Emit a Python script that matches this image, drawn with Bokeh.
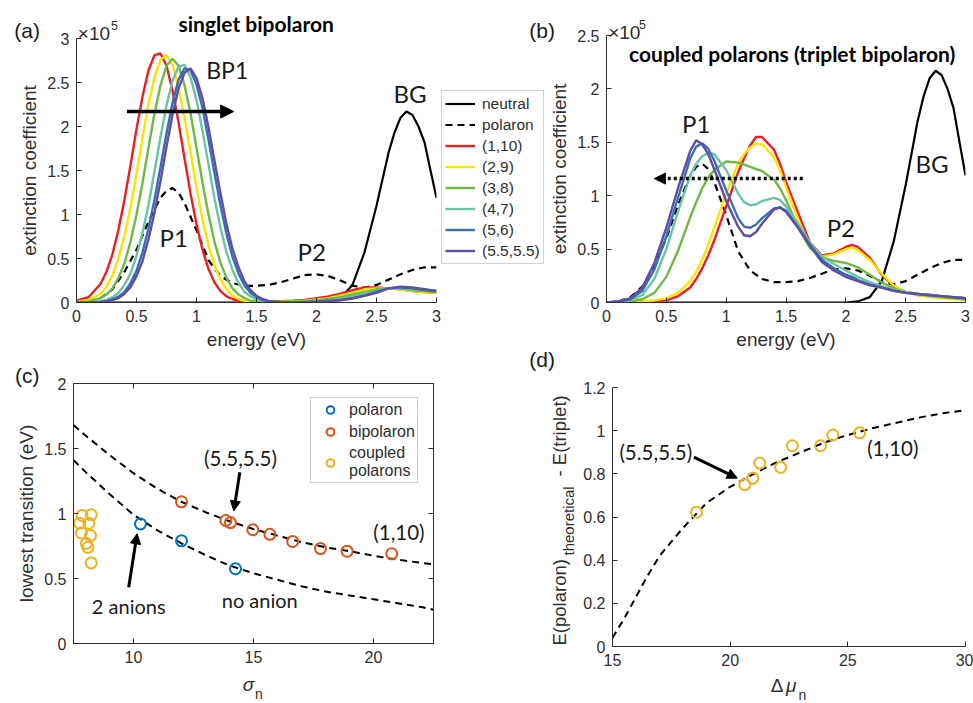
from math import pi
from bokeh.plotting import figure
from bokeh.models import (Range1d, Legend, LegendItem, Label, Arrow, NormalHead, LinearAxis,
                          FixedTicker, CustomJSTickFormatter)
from bokeh.embed import file_html
from bokeh.resources import INLINE

# ---------------- data (extinction values in units of 1e5) ----------------
energy_a = [0.0, 0.1, 0.2, 0.25, 0.3, 0.35, 0.4, 0.45, 0.5, 0.55, 0.6, 0.65, 0.7, 0.75,
            0.8, 0.85, 0.9, 0.95, 1.0, 1.05, 1.1, 1.15, 1.2, 1.25, 1.3, 1.35, 1.4, 1.45,
            1.5, 1.55, 1.6, 1.7, 1.8, 1.9, 2.0, 2.1, 2.2, 2.3, 2.4, 2.5, 2.6, 2.7, 2.8, 2.9, 3.0]
singlet_1_10 = [0.02, 0.06, 0.21, 0.35, 0.55, 0.83, 1.17, 1.56, 1.97, 2.34, 2.64, 2.81, 2.83, 2.69,
                2.41, 2.05, 1.64, 1.24, 0.89, 0.60, 0.38, 0.23, 0.13, 0.07, 0.04, 0.02, 0.01, 0.01,
                0.01, 0.01, 0.01, 0.015, 0.02, 0.03, 0.05, 0.07, 0.10, 0.14, 0.17, 0.17, 0.16, 0.15, 0.13, 0.12, 0.11]
singlet_2_9 = [0.01, 0.03, 0.10, 0.18, 0.31, 0.50, 0.76, 1.08, 1.46, 1.87, 2.25, 2.56, 2.76, 2.81,
               2.70, 2.45, 2.10, 1.71, 1.31, 0.94, 0.65, 0.42, 0.26, 0.15, 0.08, 0.04, 0.02, 0.01,
               0.01, 0.005, 0.005, 0.01, 0.015, 0.02, 0.035, 0.05, 0.08, 0.11, 0.15, 0.16, 0.16, 0.15, 0.13, 0.12, 0.11]
singlet_3_8 = [0.005, 0.01, 0.05, 0.09, 0.16, 0.28, 0.45, 0.69, 1.00, 1.36, 1.76, 2.15, 2.47, 2.69,
               2.77, 2.69, 2.47, 2.15, 1.76, 1.36, 1.00, 0.69, 0.45, 0.28, 0.16, 0.09, 0.05, 0.02,
               0.01, 0.005, 0.003, 0.005, 0.01, 0.015, 0.025, 0.04, 0.06, 0.09, 0.12, 0.15, 0.16, 0.16, 0.14, 0.13, 0.12]
singlet_4_7 = [0.0, 0.003, 0.014, 0.03, 0.06, 0.11, 0.20, 0.33, 0.53, 0.79, 1.11, 1.49, 1.88, 2.24,
               2.52, 2.68, 2.70, 2.56, 2.30, 1.95, 1.57, 1.18, 0.85, 0.57, 0.37, 0.22, 0.12, 0.07,
               0.035, 0.02, 0.008, 0.005, 0.005, 0.01, 0.015, 0.025, 0.04, 0.07, 0.10, 0.13, 0.16, 0.17, 0.15, 0.14, 0.13]
singlet_5_6 = [0.0, 0.001, 0.007, 0.017, 0.034, 0.067, 0.12, 0.22, 0.36, 0.57, 0.84, 1.17, 1.54, 1.92,
               2.27, 2.53, 2.66, 2.64, 2.48, 2.21, 1.85, 1.47, 1.10, 0.78, 0.52, 0.33, 0.19, 0.11,
               0.06, 0.03, 0.014, 0.003, 0.003, 0.005, 0.01, 0.02, 0.03, 0.05, 0.08, 0.12, 0.16, 0.17, 0.16, 0.14, 0.13]
singlet_55_55 = [0.0, 0.001, 0.005, 0.012, 0.026, 0.05, 0.10, 0.175, 0.30, 0.47, 0.72, 1.02, 1.38, 1.77,
                 2.13, 2.43, 2.61, 2.66, 2.55, 2.32, 1.99, 1.61, 1.24, 0.89, 0.61, 0.40, 0.24, 0.14,
                 0.076, 0.04, 0.019, 0.005, 0.003, 0.004, 0.008, 0.015, 0.025, 0.045, 0.075, 0.11, 0.16, 0.18, 0.17, 0.15, 0.13]

energy_polaron = [0.0, 0.1, 0.2, 0.3, 0.4, 0.5, 0.6, 0.7, 0.75, 0.8, 0.85, 0.9, 1.0, 1.1, 1.2, 1.3, 1.4,
                  1.5, 1.6, 1.7, 1.8, 1.9, 2.0, 2.1, 2.2, 2.3, 2.4, 2.5, 2.6, 2.7, 2.8, 2.9, 3.0]
polaron = [0.0, 0.01, 0.05, 0.15, 0.35, 0.60, 0.92, 1.19, 1.27, 1.30, 1.25, 1.13, 0.82, 0.48, 0.30, 0.22, 0.19,
           0.19, 0.20, 0.23, 0.27, 0.31, 0.32, 0.30, 0.25, 0.19, 0.17, 0.20, 0.26, 0.32, 0.37, 0.40, 0.40]

energy_neutral = [0.0, 2.0, 2.1, 2.2, 2.3, 2.4, 2.5, 2.6, 2.65, 2.7, 2.75, 2.8, 2.85, 2.9, 2.95, 3.0]
neutral = [0.0, 0.0, 0.01, 0.05, 0.20, 0.57, 1.10, 1.70, 1.93, 2.10, 2.17, 2.13, 2.00, 1.82, 1.50, 1.19]

energy_b = [0.0, 0.1, 0.2, 0.3, 0.4, 0.5, 0.6, 0.7, 0.75, 0.8, 0.85, 0.9, 1.0, 1.1, 1.15, 1.2, 1.25, 1.3,
            1.4, 1.45, 1.5, 1.6, 1.7, 1.8, 1.9, 2.0, 2.05, 2.1, 2.2, 2.3, 2.4, 2.5, 2.6, 2.7, 2.8, 2.9, 3.0]
triplet_1_10 = [0.0, 0.0, 0.003, 0.007, 0.012, 0.02, 0.06, 0.14, 0.22, 0.32, 0.44, 0.58, 0.90, 1.22, 1.35, 1.47, 1.55, 1.55,
                1.43, 1.30, 1.13, 0.84, 0.56, 0.44, 0.46, 0.52, 0.54, 0.52, 0.42, 0.26, 0.15, 0.10, 0.07, 0.06, 0.05, 0.04, 0.03]
triplet_2_9 = [0.0, 0.0, 0.005, 0.01, 0.02, 0.04, 0.09, 0.20, 0.29, 0.40, 0.54, 0.70, 1.02, 1.30, 1.39, 1.45, 1.49, 1.48,
               1.36, 1.24, 1.08, 0.78, 0.53, 0.43, 0.45, 0.50, 0.51, 0.49, 0.40, 0.27, 0.16, 0.10, 0.07, 0.05, 0.04, 0.03, 0.03]
triplet_3_8 = [0.0, 0.005, 0.01, 0.03, 0.09, 0.24, 0.49, 0.80, 0.94, 1.07, 1.17, 1.24, 1.32, 1.31, 1.29, 1.27, 1.25, 1.23,
               1.15, 1.07, 0.96, 0.71, 0.51, 0.42, 0.39, 0.37, 0.35, 0.33, 0.26, 0.19, 0.13, 0.10, 0.08, 0.06, 0.05, 0.04, 0.03]
triplet_4_7 = [0.0, 0.01, 0.02, 0.07, 0.22, 0.50, 0.86, 1.19, 1.30, 1.37, 1.40, 1.39, 1.24, 1.02, 0.94, 0.91, 0.92, 0.95,
               0.98, 0.96, 0.90, 0.74, 0.56, 0.43, 0.36, 0.30, 0.27, 0.24, 0.19, 0.15, 0.12, 0.10, 0.08, 0.07, 0.06, 0.05, 0.04]
triplet_5_6 = [0.0, 0.01, 0.03, 0.11, 0.31, 0.62, 0.99, 1.35, 1.46, 1.49, 1.44, 1.33, 1.05, 0.79, 0.71, 0.70, 0.73, 0.79,
               0.88, 0.89, 0.86, 0.71, 0.54, 0.40, 0.32, 0.26, 0.24, 0.21, 0.17, 0.14, 0.11, 0.09, 0.08, 0.07, 0.06, 0.05, 0.04]
triplet_55_55 = [0.0, 0.01, 0.04, 0.14, 0.37, 0.70, 1.08, 1.42, 1.52, 1.48, 1.39, 1.25, 0.95, 0.71, 0.63, 0.62, 0.66, 0.74,
                 0.87, 0.89, 0.85, 0.70, 0.53, 0.38, 0.30, 0.24, 0.22, 0.20, 0.16, 0.14, 0.11, 0.09, 0.08, 0.07, 0.06, 0.05, 0.04]

series_labels = ["(1,10)", "(2,9)", "(3,8)", "(4,7)", "(5,6)", "(5.5,5.5)"]

# panel (c)
sigma_polaron = [10.29, 12.0, 14.25]
trans_polaron = [0.92, 0.79, 0.575]
sigma_bipolaron = [12.0, 13.85, 14.04, 14.97, 15.68, 16.63, 17.79, 18.9, 20.76]
trans_bipolaron = [1.09, 0.946, 0.93, 0.875, 0.84, 0.785, 0.73, 0.71, 0.69]
sigma_coupled = [7.86, 8.24, 7.76, 8.14, 7.83, 8.21, 8.04, 8.10, 8.24]
trans_coupled = [0.985, 0.99, 0.925, 0.925, 0.85, 0.83, 0.77, 0.74, 0.62]
sigma_fit = [7.5, 8, 9, 10, 11, 12, 13, 14, 15, 16, 17, 18, 19, 20, 21, 22, 22.5]
fit_bipolaron = [1.68, 1.60, 1.45, 1.31, 1.19, 1.09, 1.01, 0.94, 0.88, 0.83, 0.78, 0.74, 0.71, 0.675, 0.645, 0.62, 0.61]
fit_polaron = [1.41, 1.32, 1.15, 0.99, 0.87, 0.77, 0.68, 0.60, 0.54, 0.49, 0.44, 0.40, 0.37, 0.34, 0.31, 0.28, 0.26]

# panel (d)
dmu_coupled = [18.57, 20.62, 20.96, 21.26, 22.15, 22.64, 23.84, 24.36, 25.5]
dE_coupled = [0.622, 0.75, 0.78, 0.85, 0.83, 0.93, 0.93, 0.98, 0.99]
dmu_fit = [15, 15.5, 16, 16.5, 17, 18, 19, 20, 21, 22, 23, 24, 25, 26, 27, 28, 29, 30]
dE_fit = [0.04, 0.13, 0.23, 0.33, 0.42, 0.55, 0.665, 0.74, 0.80, 0.855, 0.90, 0.945, 0.98, 1.01, 1.035, 1.06, 1.08, 1.095]

# ---------------- styling ----------------
AX = "#2e2e2e"
TXT = "#1a1a1a"
TF = "Liberation Sans"
AF = "Lato"
COLS = ["#ee1d23", "#ffe400", "#6cb944", "#68c4a1", "#3b6cb7", "#5e4fa2"]
C_POL, C_BIP, C_CPL = "#0072BD", "#D95319", "#EDB120"
LW_SPEC = 2.4
DASH = "7 5"

fmt = CustomJSTickFormatter(code="return (Math.round(tick*100)/100).toString();")
blank_fmt = CustomJSTickFormatter(code="return '';")


def style_axis(ax):
    ax.axis_line_color = AX
    ax.major_tick_line_color = AX
    ax.major_tick_in = 5
    ax.major_tick_out = 0
    ax.minor_tick_line_color = None
    ax.major_label_text_font = TF
    ax.major_label_text_font_size = "16px"
    ax.major_label_text_color = AX
    ax.axis_label_text_font = TF
    ax.axis_label_text_font_size = "19px"
    ax.axis_label_text_font_style = "normal"
    ax.axis_label_text_color = AX
    ax.major_label_standoff = 7
    ax.axis_label_standoff = 4


def make_fig(left_px, top_px, w, h, left, right, top, bottom, xr, yr, xticks, yticks,
             xlabel=None, ylabel=None):
    p = figure(width=w, height=h, x_range=Range1d(*xr), y_range=Range1d(*yr),
               output_backend="svg", toolbar_location=None,
               min_border_left=left, min_border_right=right,
               min_border_top=top, min_border_bottom=bottom)
    p.styles = {"position": "absolute", "left": f"{left_px}px", "top": f"{top_px}px"}
    p.outline_line_color = None
    p.background_fill_color = "white"
    p.border_fill_color = "white"
    p.xgrid.visible = False
    p.ygrid.visible = False
    p.xaxis[0].ticker = FixedTicker(ticks=xticks)
    p.yaxis[0].ticker = FixedTicker(ticks=yticks)
    p.xaxis[0].axis_label = xlabel
    p.yaxis[0].axis_label = ylabel
    for ax in (p.xaxis[0], p.yaxis[0]):
        style_axis(ax)
        ax.formatter = fmt
    return p


def txt(p, x, y, s, size, font=AF, style="normal", color=TXT, align="center",
        baseline="middle", angle=0.0):
    p.add_layout(Label(x=x, y=y, text=s, text_font=font, text_font_size=f"{size}px",
                       text_font_style=style, text_color=color, text_align=align,
                       text_baseline=baseline, angle=angle))


def arrow(p, x0, y0, x1, y1, lw=3.0, size=11, dash="solid"):
    p.add_layout(Arrow(x_start=x0, y_start=y0, x_end=x1, y_end=y1, line_width=lw,
                       line_color="black", line_dash=dash,
                       end=NormalHead(size=size, fill_color="black", line_color="black", line_width=1)))


e_ticks = [0, 0.5, 1, 1.5, 2, 2.5, 3]

# ---------------- panel (a) ----------------
pa = make_fig(0, 0, 546, 352, 76, 110, 38, 50, (0, 3), (0, 3), e_ticks, [0, 0.5, 1, 1.5, 2, 2.5, 3],
              "energy (eV)", "extinction coefficient")
pa.line(energy_neutral, neutral, line_color="black", line_width=2.2)
pa.line(energy_polaron, polaron, line_color="black", line_width=2.2, line_dash=DASH)
a_series = [singlet_1_10, singlet_2_9, singlet_3_8, singlet_4_7, singlet_5_6, singlet_55_55]
for ys, c in zip(a_series, COLS):
    pa.line(energy_a, ys, line_color=c, line_width=LW_SPEC)
arrow(pa, 0.42, 2.17, 1.31, 2.17, lw=3.5, size=13)
txt(pa, 1.256, 2.64, "BP1", 23)
txt(pa, 0.81, 0.735, "P1", 24)
txt(pa, 1.96, 0.58, "P2", 24)
txt(pa, 2.78, 2.38, "BG", 24)

# ---------------- panel (b) ----------------
pb = make_fig(546, 0, 427, 352, 59, 8, 35, 50, (0, 3), (0, 2.5), e_ticks, [0, 0.5, 1, 1.5, 2, 2.5],
              "energy (eV)", "extinction coefficient")
pb.line(energy_neutral, neutral, line_color="black", line_width=2.2)
pb.line(energy_polaron, polaron, line_color="black", line_width=2.2, line_dash=DASH)
b_series = [triplet_1_10, triplet_2_9, triplet_3_8, triplet_4_7, triplet_5_6, triplet_55_55]
for ys, c in zip(b_series, COLS):
    pb.line(energy_b, ys, line_color=c, line_width=LW_SPEC)
arrow(pb, 1.64, 1.16, 0.40, 1.16, lw=3.5, size=11, dash="3 3")
txt(pb, 0.75, 1.673, "P1", 24)
txt(pb, 1.958, 0.705, "P2", 24)
txt(pb, 2.72, 1.30, "BG", 24)

# ---------------- panel (c) ----------------
pc = make_fig(0, 352, 546, 351, 73, 113, 31, 60, (7.5, 22.5), (0, 2), [10, 15, 20], [0, 0.5, 1, 1.5, 2],
              None, "lowest transition (eV)")
pc.outline_line_color = AX
pc.outline_line_width = 1
for side, ticks in (("right", [0, 0.5, 1, 1.5, 2]), ("above", [10, 15, 20])):
    extra = LinearAxis(ticker=FixedTicker(ticks=ticks), formatter=blank_fmt)
    style_axis(extra)
    extra.major_label_standoff = 0
    extra.major_label_text_font_size = "1px"
    pc.add_layout(extra, side)
pc.line(sigma_fit, fit_bipolaron, line_color="black", line_width=2, line_dash=DASH)
pc.line(sigma_fit, fit_polaron, line_color="black", line_width=2, line_dash=DASH)
r_p = pc.scatter(sigma_polaron, trans_polaron, marker="circle", size=11, fill_color=None,
                 line_color=C_POL, line_width=2)
r_b = pc.scatter(sigma_bipolaron, trans_bipolaron, marker="circle", size=11, fill_color=None,
                 line_color=C_BIP, line_width=2)
r_c = pc.scatter(sigma_coupled, trans_coupled, marker="circle", size=11, fill_color=None,
                 line_color=C_CPL, line_width=2)
leg_c = Legend(items=[LegendItem(label="polaron", renderers=[r_p]),
                      LegendItem(label="bipolaron", renderers=[r_b]),
                      LegendItem(label="coupled\npolarons", renderers=[r_c])],
               location=(237, 160), margin=0, padding=2, spacing=3,
               glyph_width=34, glyph_height=19, label_height=19, label_standoff=2,
               label_text_font=TF, label_text_font_size="16px", label_text_color=AX,
               border_line_color="#a0a0a0", border_line_width=1.5,
               background_fill_color="white", background_fill_alpha=1.0)
pc.add_layout(leg_c)
arrow(pc, 14.43, 1.318, 14.18, 1.02, lw=3, size=10)
arrow(pc, 9.8, 0.433, 10.15, 0.844, lw=3, size=10)
txt(pc, 14.46, 1.43, "(5.5,5.5)", 20.5)
txt(pc, 21.06, 0.856, "(1,10)", 20.5)
txt(pc, 9.8, 0.29, "2 anions", 20)
txt(pc, 15.26, 0.336, "no anion", 20)

# ---------------- panel (d) ----------------
pd = make_fig(546, 352, 427, 351, 66, 8, 35, 57, (15, 30), (0, 1.2), [15, 20, 25, 30],
              [0, 0.2, 0.4, 0.6, 0.8, 1.0, 1.2], None, None)
pd.line(dmu_fit, dE_fit, line_color="black", line_width=2, line_dash=DASH)
pd.scatter(dmu_coupled, dE_coupled, marker="circle", size=11, fill_color=None,
           line_color=C_CPL, line_width=2)
arrow(pd, 18.46, 0.877, 20.3, 0.78, lw=3, size=10)
txt(pd, 16.84, 0.90, "(5.5,5.5)", 20.5)
txt(pd, 26.91, 0.92, "(1,10)", 20.5)

# ---------------- overlay: texts and legend outside the plot frames (page pixels) ----------------
ov = figure(width=973, height=703, x_range=Range1d(0, 973), y_range=Range1d(703, 0),
            output_backend="svg", toolbar_location=None, x_axis_type=None, y_axis_type=None,
            min_border=0, min_border_left=0, min_border_right=0, min_border_top=0, min_border_bottom=0)
ov.outline_line_color = None
ov.background_fill_alpha = 0
ov.border_fill_alpha = 0
ov.grid.visible = False
ov.styles = {"position": "absolute", "left": "0px", "top": "0px", "pointer-events": "none"}

nan = float("nan")
legend_styles = [("neutral", "black", "solid"), ("polaron", "black", DASH)]
legend_styles += [(l, c, "solid") for l, c in zip(series_labels, COLS)]
leg_items = []
for lab, col, dash in legend_styles:
    r = ov.line([nan], [nan], line_color=col, line_width=LW_SPEC if col != "black" else 2.2,
                line_dash=dash)
    leg_items.append(LegendItem(label=lab, renderers=[r]))
leg_a = Legend(items=leg_items, location=(441, 439), margin=0, padding=3, spacing=2,
               glyph_width=30, glyph_height=19, label_height=19, label_standoff=7,
               label_text_font=TF, label_text_font_size="15.5px", label_text_color=AX,
               border_line_color="#a6a6a6", border_line_width=1,
               background_fill_color="white", background_fill_alpha=1.0)
ov.add_layout(leg_a)

txt(ov, 26.7, 30, "(a)", 21, font=TF)
txt(ov, 541.7, 30, "(b)", 21, font=TF)
txt(ov, 26.7, 375, "(c)", 21, font=TF)
txt(ov, 541.7, 359, "(d)", 21, font=TF)
txt(ov, 77.3, 33.3, "\u00d710", 19, font=TF, color=AX, align="left", baseline="alphabetic")
txt(ov, 110.5, 25, "5", 12.5, font=TF, color=AX, align="left", baseline="alphabetic")
txt(ov, 607.7, 31.7, "\u00d710", 19, font=TF, color=AX, align="left", baseline="alphabetic")
txt(ov, 638.5, 24, "5", 12.5, font=TF, color=AX, align="left", baseline="alphabetic")
txt(ov, 255.7, 23, "singlet bipolaron", 21, style="bold", color="black")
txt(ov, 791.7, 53, "coupled polarons (triplet bipolaron)", 21, style="bold", color="black")
txt(ov, 559, 645, "E(polaron)", 18.5, font=TF, color=AX, align="left", angle=pi / 2)
txt(ov, 568, 555, "theoretical", 15, font=TF, color=AX, align="left", angle=pi / 2)
txt(ov, 559, 476, "- E(triplet)", 18.5, font=TF, color=AX, align="left", angle=pi / 2)
txt(ov, 248, 684, "\u03c3", 19, font=TF, style="italic", color=AX)
txt(ov, 258.5, 693, "n", 14, font=TF, color=AX)
txt(ov, 776.7, 685, "\u0394", 19, font=TF, color=AX)
txt(ov, 790.8, 685, "\u03bc", 19, font=TF, style="italic", color=AX)
txt(ov, 802, 694, "n", 14, font=TF, color=AX)

open("out.html", "w").write(file_html([pa, pb, pc, pd, ov], INLINE, title="polaron spectra"))
